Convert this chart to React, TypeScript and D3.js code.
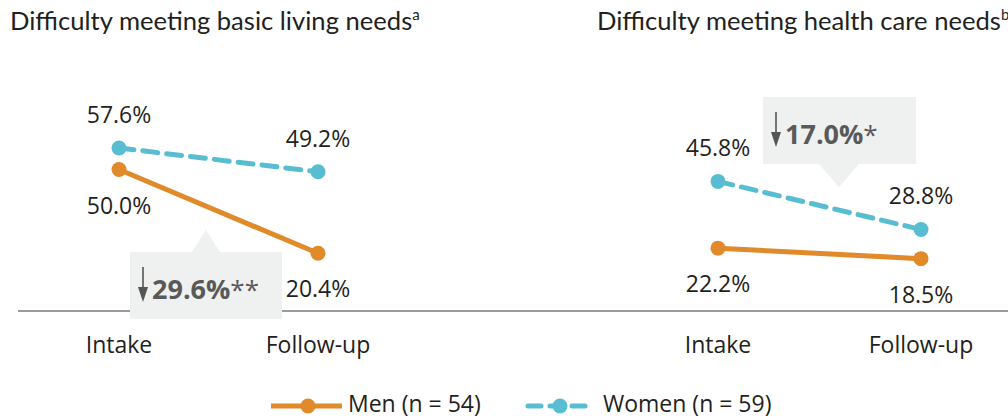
import React from "react";
import * as d3 from "d3";

// ---- data ----
const timepoints = ["Intake", "Follow-up"];
const panelTitles = ["Difficulty meeting basic living needs", "Difficulty meeting health care needs"];
const panelTitleNotes = ["a", "b"];
const menBasic = [50.0, 20.4];
const womenBasic = [57.6, 49.2];
const menHealth = [22.2, 18.5];
const womenHealth = [45.8, 28.8];
const changeValues = ["29.6%", "17.0%"];
const changeSignif = ["**", "*"];
const seriesNames = ["Men (n = 54)", "Women (n = 59)"];

// ---- layout ----
const W = 1008;
const H = 419;
const ORANGE = "#E08A2A";
const TEAL = "#58BDD0";
const TEXT = "#231F20";
const BOX = "#EFF0F0";
const NUMFONT = "'Open Sans', sans-serif";
const TITLEFONT = "Lato, sans-serif";

const y = d3.scaleLinear().domain([0, 100]).range([311, 28]);
const xLeft = d3.scalePoint<string>().domain(timepoints).range([119, 318]);
const xRight = d3.scalePoint<string>().domain(timepoints).range([718, 921]);

const panels = [
  { x: xLeft, men: menBasic, women: womenBasic, title: panelTitles[0], note: panelTitleNotes[0], titleX: 10,
    labelPos: { men: ["below", "below"], women: ["above", "above"] } },
  { x: xRight, men: menHealth, women: womenHealth, title: panelTitles[1], note: panelTitleNotes[1], titleX: 597,
    labelPos: { men: ["below", "below"], women: ["above", "above"] } },
];

const callouts = [
  { x0: 130, x1: 282, y0: 252, y1: 319, tipX: 206, tipY: 230, half: 14, up: true },
  { x0: 763, x1: 916, y0: 97, y1: 164, tipX: 839, tipY: 187, half: 20, up: false },
];

function Series({ xs, vals, color, dashed, pos }: any) {
  const line = d3.line<number>().x((_, i) => xs(timepoints[i]) as number).y((d) => y(d));
  return (
    <g>
      <path d={line(vals) || ""} fill="none" stroke={color} strokeWidth={5}
        strokeDasharray={dashed ? "15 9" : undefined} strokeLinecap={dashed ? "round" : "butt"} />
      {vals.map((v: number, i: number) => (
        <circle key={i} cx={xs(timepoints[i])} cy={y(v)} r={7.5} fill={color} />
      ))}
      {vals.map((v: number, i: number) => (
        <text key={"t" + i} x={xs(timepoints[i])} y={y(v) + (pos[i] === "above" ? -25 : 44)}
          textAnchor="middle" fontFamily={NUMFONT} fontSize={23} fill={TEXT}>
          {v.toFixed(1) + "%"}
        </text>
      ))}
    </g>
  );
}

function Callout({ c, value, sig }: any) {
  const tri = c.up
    ? `M${c.tipX - c.half},${c.y0} L${c.tipX},${c.tipY} L${c.tipX + c.half},${c.y0} Z`
    : `M${c.tipX - c.half},${c.y1} L${c.tipX},${c.tipY} L${c.tipX + c.half},${c.y1} Z`;
  const base = c.y0 + 47;
  const ax = c.x0 + 13;
  return (
    <g>
      <rect x={c.x0} y={c.y0} width={c.x1 - c.x0} height={c.y1 - c.y0} fill={BOX} />
      <path d={tri} fill={BOX} />
      <line x1={ax} x2={ax} y1={base - 32} y2={base - 4} stroke="#555" strokeWidth={1.6} />
      <path d={`M${ax - 5},${base - 12} L${ax},${base + 3} L${ax + 5},${base - 12} Z`} fill="#555" />
      <text x={c.x0 + 22} y={base} fontFamily={NUMFONT} fontSize={27} fontWeight={700} fill="#595959">
        {value}
        <tspan fontWeight={400} fontSize={26}>{sig}</tspan>
      </text>
    </g>
  );
}

export default function App() {
  return (
    <svg width={W} height={H} style={{ position: "absolute", left: 0, top: 0, background: "#fff" }}>
      {panels.map((p, k) => (
        <text key={"title" + k} x={p.titleX} y={30} fontFamily={TITLEFONT} fontSize={25.6} fill={TEXT}>
          {p.title}
          <tspan fontSize={15} dy={-10}>{p.note}</tspan>
        </text>
      ))}
      <line x1={18} x2={W} y1={311} y2={311} stroke="#9A9A9A" strokeWidth={2} />
      {callouts.map((c, k) => (
        <Callout key={"c" + k} c={c} value={changeValues[k]} sig={changeSignif[k]} />
      ))}
      {panels.map((p, k) => (
        <g key={"p" + k}>
          <Series xs={p.x} vals={p.men} color={ORANGE} dashed={false} pos={p.labelPos.men} />
          <Series xs={p.x} vals={p.women} color={TEAL} dashed={true} pos={p.labelPos.women} />
          {timepoints.map((t) => (
            <text key={t} x={p.x(t)} y={353} textAnchor="middle" fontFamily={NUMFONT} fontSize={23} fill={TEXT}>
              {t}
            </text>
          ))}
        </g>
      ))}
      {/* legend */}
      <g>
        <line x1={271} x2={342} y1={406} y2={406} stroke={ORANGE} strokeWidth={5} />
        <circle cx={308} cy={406} r={7.5} fill={ORANGE} />
        <text x={348} y={412} fontFamily={NUMFONT} fontSize={23} fill={TEXT}>{seriesNames[0]}</text>
        <line x1={528} x2={590} y1={406} y2={406} stroke={TEAL} strokeWidth={5} strokeDasharray="13 9" strokeLinecap="round" />
        <circle cx={560} cy={406} r={7.5} fill={TEAL} />
        <text x={603} y={412} fontFamily={NUMFONT} fontSize={23} fill={TEXT}>{seriesNames[1]}</text>
      </g>
    </svg>
  );
}
